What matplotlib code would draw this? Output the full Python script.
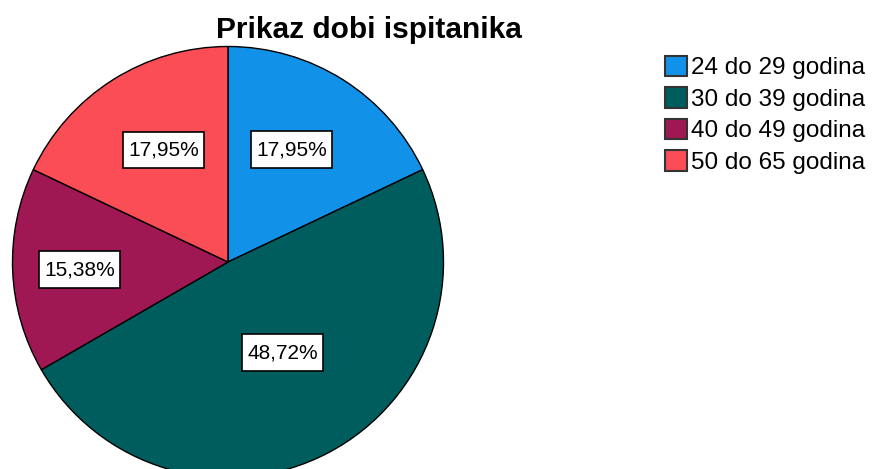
import numpy as np
import matplotlib
matplotlib.use("Agg")
from matplotlib import pyplot as plt
from matplotlib.patches import Patch
from matplotlib.path import Path

# podaci
kategorije = ["24 do 29 godina", "30 do 39 godina", "40 do 49 godina", "50 do 65 godina"]
postoci = [17.95, 48.72, 15.38, 17.95]
boje = ["#1192e8", "#005d5d", "#9f1853", "#fa4d56"]
# label placement: fraction of radius and small angle tweak (deg)
udaljenost = [0.60, 0.49, 0.69, 0.60]
pomak_kuta = [2.7, 3.3, 0.6, -2.3]

plt.rcParams['font.family'] = ['Liberation Sans', 'DejaVu Sans']


# label box: a bit taller than the usual square pad
def kutija(x0, y0, width, height, mutation_size):
    px, py = 0.25 * mutation_size, 0.42 * mutation_size
    x0, y0 = x0 - px, y0 - py
    x1, y1 = x0 + width + 2 * px, y0 + height + 2 * py
    return Path([(x0, y0), (x1, y0), (x1, y1), (x0, y1), (x0, y0)], closed=True)


W, H = 874, 469
fig = plt.figure(figsize=(W / 100, H / 100), dpi=100)

# pie axes in pixels: left 12, right 443, top 46
r_px = 215.5
cx, cy = 228, 262
ax = fig.add_axes([(cx - r_px) / W, 1 - (cy + r_px) / H, 2 * r_px / W, 2 * r_px / H])

wedges, _ = ax.pie(postoci, colors=boje, startangle=90, counterclock=False,
                   wedgeprops=dict(edgecolor="black", linewidth=1.0))
ax.set_xlim(-1, 1)
ax.set_ylim(-1, 1)
ax.set_aspect("auto")
ax.axis("off")

for w, p, d, dk in zip(wedges, postoci, udaljenost, pomak_kuta):
    mid = np.deg2rad((w.theta1 + w.theta2) / 2 + dk)
    ax.text(d * np.cos(mid), d * np.sin(mid), f"{p:.2f}%".replace(".", ","),
            ha="center", va="center", fontsize=15,
            bbox=dict(boxstyle=kutija, facecolor="white", edgecolor="black", linewidth=1.2))

fig.text(368.5 / W, 1 - 38 / H, "Prikaz dobi ispitanika", ha="center", va="baseline",
         fontsize=21.5, fontweight="bold")

handles = [Patch(facecolor=c, edgecolor="#333333", linewidth=1.5) for c in boje]
fig.legend(handles, kategorije, loc="upper left", bbox_to_anchor=(665 / W, 1 - 56 / H),
           frameon=False, fontsize=17.5, handlelength=0.9, handleheight=0.9,
           handletextpad=0.17, labelspacing=0.33, borderaxespad=0, borderpad=0)

fig.savefig("out.png", dpi=100)
